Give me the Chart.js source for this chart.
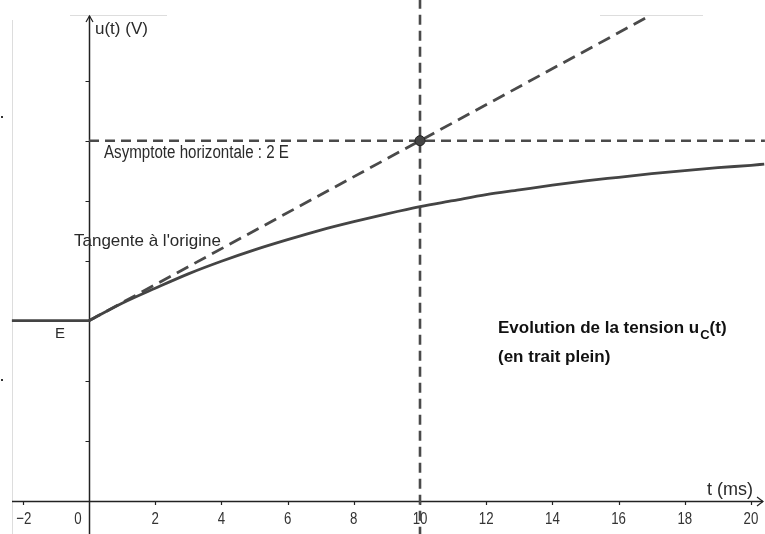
<!DOCTYPE html>
<html>
<head>
<meta charset="utf-8">
<script src="https://cdn.jsdelivr.net/npm/chart.js@4"></script>
<style>
  html, body { margin: 0; padding: 0; background: #fff; }
  #wrap { width: 765px; height: 534px; position: relative; }
</style>
</head>
<body>
<div id="wrap"><canvas id="c"></canvas></div>
<script>
// ---- data (y in units where E = 3, tick every E/3) ----
const curveT = [0, 1, 2, 3, 4, 5, 6, 7, 8, 9, 10, 11, 12, 13, 14, 15, 16, 17, 18, 19, 20, 20.4];
const curveU = [3.00, 3.29, 3.54, 3.78, 3.99, 4.18, 4.35, 4.51, 4.65, 4.78, 4.90, 5.00, 5.10, 5.18, 5.26, 5.33, 5.39, 5.45, 5.50, 5.55, 5.59, 5.61];
const beforeT = [-2.33, 0];
const beforeU = [3, 3];
const tangentT = [0, 16.9];
const tangentU = [3, 8.07];
const asymT = [0, 20.42];
const asymU = [6, 6];
const vertT = [10, 10];
const vertU = [-0.6, 8.4];
const pointT = [10];
const pointU = [6];
const xTicks = [-2, 0, 2, 4, 6, 8, 10, 12, 14, 16, 18, 20];
const xTickLabels = ["\u22122", "0", "2", "4", "6", "8", "10", "12", "14", "16", "18", "20"];
const yTicks = [1, 2, 3, 4, 5, 6, 7];

const pts = (xs, ys) => xs.map((x, i) => ({ x: x, y: ys[i] }));
const LINE = '#444444';
const FONT = '"Liberation Sans", Arial, sans-serif';

function txt(ctx, s, x, y, size, sx, weight, align) {
  ctx.save();
  ctx.font = (weight || 'normal') + ' ' + size + 'px ' + FONT;
  ctx.textBaseline = 'alphabetic';
  ctx.textAlign = align || 'left';
  ctx.translate(x, y);
  ctx.scale(sx, 1);
  ctx.fillText(s, 0, 0);
  const w = ctx.measureText(s).width * sx;
  ctx.restore();
  return w;
}

const axesPlugin = {
  id: 'axesPlugin',
  beforeDatasetsDraw(chart) {
    const ctx = chart.ctx;
    const xs = chart.scales.x, ys = chart.scales.y;
    const x0 = Math.round(xs.getPixelForValue(0)) + 0.5, y0 = Math.round(ys.getPixelForValue(0)) + 0.5;
    ctx.save();
    // faint frame artefacts
    ctx.strokeStyle = '#dddddd';
    ctx.lineWidth = 1;
    ctx.beginPath();
    ctx.moveTo(12.5, 20); ctx.lineTo(12.5, 534);
    ctx.moveTo(70, 15.5); ctx.lineTo(167, 15.5);
    ctx.moveTo(600, 15.5); ctx.lineTo(703, 15.5);
    ctx.stroke();
    ctx.fillStyle = '#333';
    ctx.fillRect(1, 116, 2, 2);
    ctx.fillRect(1, 379, 2, 2);
    // axes
    ctx.strokeStyle = '#222222';
    ctx.lineWidth = 1.5;
    ctx.beginPath();
    ctx.moveTo(12, y0); ctx.lineTo(763, y0);
    ctx.moveTo(x0, 534); ctx.lineTo(x0, 16);
    ctx.stroke();
    // arrows
    ctx.lineWidth = 1.2;
    ctx.beginPath();
    ctx.moveTo(x0 - 3.5, 22); ctx.lineTo(x0, 16); ctx.lineTo(x0 + 3.5, 22);
    ctx.moveTo(757, y0 - 4.5); ctx.lineTo(763, y0); ctx.lineTo(757, y0 + 4.5);
    ctx.stroke();
    // ticks
    ctx.lineWidth = 1.2;
    ctx.beginPath();
    xTicks.forEach(v => {
      if (v === 0) return;
      const px = Math.round(xs.getPixelForValue(v)) + 0.5;
      ctx.moveTo(px, y0); ctx.lineTo(px, y0 + 3.5);
    });
    yTicks.forEach(v => {
      const py = Math.round(ys.getPixelForValue(v)) + 0.5;
      ctx.moveTo(x0 - 4, py); ctx.lineTo(x0, py);
    });
    ctx.stroke();
    // tick labels
    ctx.fillStyle = '#333333';
    xTicks.forEach((v, i) => {
      let px = xs.getPixelForValue(v);
      if (v === 0) px -= 11;
      if (v < 0) px += 1;
      txt(ctx, xTickLabels[i], px, y0 + 22, 17, 0.78, 'normal', 'center');
    });
    ctx.restore();
  },
  afterDatasetsDraw(chart) {
    const ctx = chart.ctx;
    ctx.save();
    ctx.fillStyle = '#2a2a2a';
    txt(ctx, 'u(t) (V)', 95, 34, 17, 1.0);
    txt(ctx, 'Asymptote horizontale : 2 E', 104, 158, 18, 0.84);
    txt(ctx, "Tangente \u00e0 l'origine", 74, 246, 17, 1.0);
    txt(ctx, 'E', 55, 338, 15, 1.0);
    txt(ctx, 't (ms)', 707, 495, 18, 1.0);
    ctx.fillStyle = '#111111';
    let w = txt(ctx, 'Evolution de la tension u', 498, 333, 17, 1.0, 'bold');
    let w2 = txt(ctx, 'C', 498 + w + 1, 339, 13, 1.0, 'bold');
    txt(ctx, '(t)', 498 + w + w2 + 1, 333, 17, 1.0, 'bold');
    txt(ctx, '(en trait plein)', 498, 362, 17, 1.0, 'bold');
    ctx.restore();
  }
};

new Chart(document.getElementById('c'), {
  type: 'scatter',
  data: {
    datasets: [
      { data: pts(pointT, pointU), showLine: false, pointRadius: 5, pointBackgroundColor: '#444', pointBorderColor: '#222', pointBorderWidth: 1 },
      { data: pts(curveT, curveU), showLine: true, borderColor: LINE, borderWidth: 2.8, pointRadius: 0, cubicInterpolationMode: 'monotone' },
      { data: pts(beforeT, beforeU), showLine: true, borderColor: LINE, borderWidth: 2.8, pointRadius: 0 },
      { data: pts(tangentT, tangentU), showLine: true, borderColor: '#4a4a4a', borderWidth: 2.8, borderDash: [13, 7], pointRadius: 0 },
      { data: pts(asymT, asymU), showLine: true, borderColor: '#4a4a4a', borderWidth: 2.6, borderDash: [10, 6], pointRadius: 0 },
      { data: pts(vertT, vertU), showLine: true, borderColor: '#4a4a4a', borderWidth: 2.6, borderDash: [10, 6], pointRadius: 0 }
    ]
  },
  options: {
    responsive: true,
    maintainAspectRatio: false,
    animation: false,
    devicePixelRatio: 1,
    layout: { padding: 0, autoPadding: false },
    plugins: { legend: { display: false }, tooltip: { enabled: false }, title: { display: false } },
    events: [],
    scales: {
      x: { type: 'linear', min: -2.689, max: 20.423, display: false },
      y: { type: 'linear', min: -0.555, max: 8.345, display: false }
    }
  },
  plugins: [axesPlugin]
});
</script>
</body>
</html>
